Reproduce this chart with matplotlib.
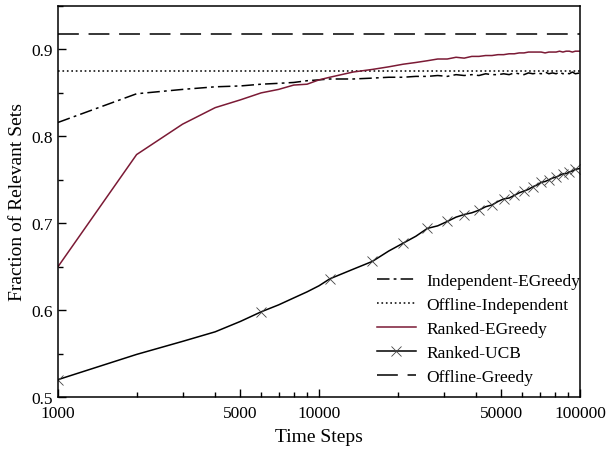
import matplotlib
matplotlib.use("Agg")
import matplotlib.pyplot as plt
from matplotlib.ticker import FixedLocator, NullFormatter, MultipleLocator

plt.rcParams['font.family'] = ['Liberation Serif', 'DejaVu Serif']
plt.rcParams['lines.scale_dashes'] = False

# time steps (every 1000 up to 10000, then every 2500)
steps = [1000, 2000, 3000, 4000, 5000, 6000, 7000, 8000, 9000, 10000,
         11000, 13500, 16000, 18500, 21000, 23500, 26000, 28500, 31000, 33500,
         36000, 38500, 41000, 43500, 46000, 48500, 51000, 53500, 56000, 58500,
         61000, 63500, 66000, 68500, 71000, 73500, 76000, 78500, 81000, 83500,
         86000, 88500, 91000, 93500, 96000, 100000]

indep_egreedy = [0.816, 0.849, 0.854, 0.857, 0.858, 0.860, 0.861, 0.862, 0.864, 0.865,
                 0.866, 0.866, 0.867, 0.868, 0.868, 0.869, 0.869, 0.870, 0.869, 0.871,
                 0.870, 0.871, 0.870, 0.872, 0.871, 0.871, 0.872, 0.871, 0.873, 0.872,
                 0.871, 0.873, 0.872, 0.873, 0.872, 0.874, 0.872, 0.873, 0.872, 0.874,
                 0.872, 0.873, 0.872, 0.874, 0.872, 0.873]

ranked_egreedy = [0.650, 0.779, 0.814, 0.833, 0.842, 0.850, 0.854, 0.859, 0.860, 0.865,
                  0.868, 0.874, 0.877, 0.880, 0.883, 0.885, 0.887, 0.889, 0.889, 0.891,
                  0.890, 0.892, 0.892, 0.893, 0.893, 0.894, 0.894, 0.895, 0.895, 0.896,
                  0.896, 0.897, 0.897, 0.897, 0.897, 0.896, 0.897, 0.897, 0.897, 0.898,
                  0.897, 0.898, 0.898, 0.897, 0.898, 0.898]

ranked_ucb = [0.520, 0.549, 0.564, 0.575, 0.587, 0.598, 0.606, 0.614, 0.621, 0.628,
              0.636, 0.647, 0.656, 0.668, 0.677, 0.685, 0.694, 0.697, 0.702, 0.707,
              0.710, 0.712, 0.715, 0.719, 0.721, 0.725, 0.728, 0.729, 0.732, 0.735,
              0.737, 0.739, 0.742, 0.744, 0.747, 0.748, 0.750, 0.752, 0.753, 0.755,
              0.757, 0.757, 0.759, 0.760, 0.762, 0.763]

offline_independent = 0.875
offline_greedy = 0.918

# markers every 5000 steps
ucb_marks = [i for i, s in enumerate(steps) if (s - 1000) % 5000 == 0]

fig = plt.figure(figsize=(6.07, 4.52), dpi=100)
ax = fig.add_axes([0.0956, 0.1195, 0.8599, 0.865])

ax.plot(steps, indep_egreedy, color='black', lw=1.1, dashes=(9, 3, 2, 3),
        label='Independent-EGreedy')
ax.axhline(offline_independent, color='black', lw=1.1, dashes=(1.2, 2),
           label='Offline-Independent')
ax.plot(steps, ranked_egreedy, color='#7b1a35', lw=1.1, label='Ranked-EGreedy')
ax.plot(steps, ranked_ucb, color='black', lw=1.1, marker='x', ms=7.5, mew=0.6,
        mec='#444444', markevery=ucb_marks, label='Ranked-UCB')
ax.axhline(offline_greedy, color='black', lw=1.1, dashes=(15, 7),
           label='Offline-Greedy')

ax.set_xscale('log')
ax.set_xlim(1000, 100000)
ax.set_ylim(0.5, 0.95)
ax.xaxis.set_major_locator(FixedLocator([1000, 5000, 10000, 50000, 100000]))
ax.xaxis.set_major_formatter(matplotlib.ticker.FixedFormatter(['1000', '5000', '10000', '50000', '100000']))
ax.xaxis.set_minor_locator(FixedLocator([2000, 3000, 4000, 6000, 7000, 8000, 9000,
                                         20000, 30000, 40000, 60000, 70000, 80000, 90000]))
ax.xaxis.set_minor_formatter(NullFormatter())
ax.yaxis.set_major_locator(MultipleLocator(0.1))
ax.yaxis.set_minor_locator(MultipleLocator(0.05))
ax.tick_params(which='both', direction='in', top=False, right=False, labelsize=12.5)
ax.tick_params(which='major', length=6, width=1)
ax.tick_params(which='minor', length=3.5, width=1)
ax.tick_params(axis='x', pad=6)
for sp in ax.spines.values():
    sp.set_linewidth(1.1)

ax.set_xlabel('Time Steps', fontsize=14, labelpad=5)
ax.set_ylabel('Fraction of Relevant Sets', fontsize=14, labelpad=4)

ax.legend(loc='lower right', bbox_to_anchor=(1.0, 0.03), frameon=False,
          fontsize=12.5, handlelength=2.2, handletextpad=0.6, labelspacing=0.45,
          borderpad=0, borderaxespad=0)

fig.savefig('out.png', dpi=100)
